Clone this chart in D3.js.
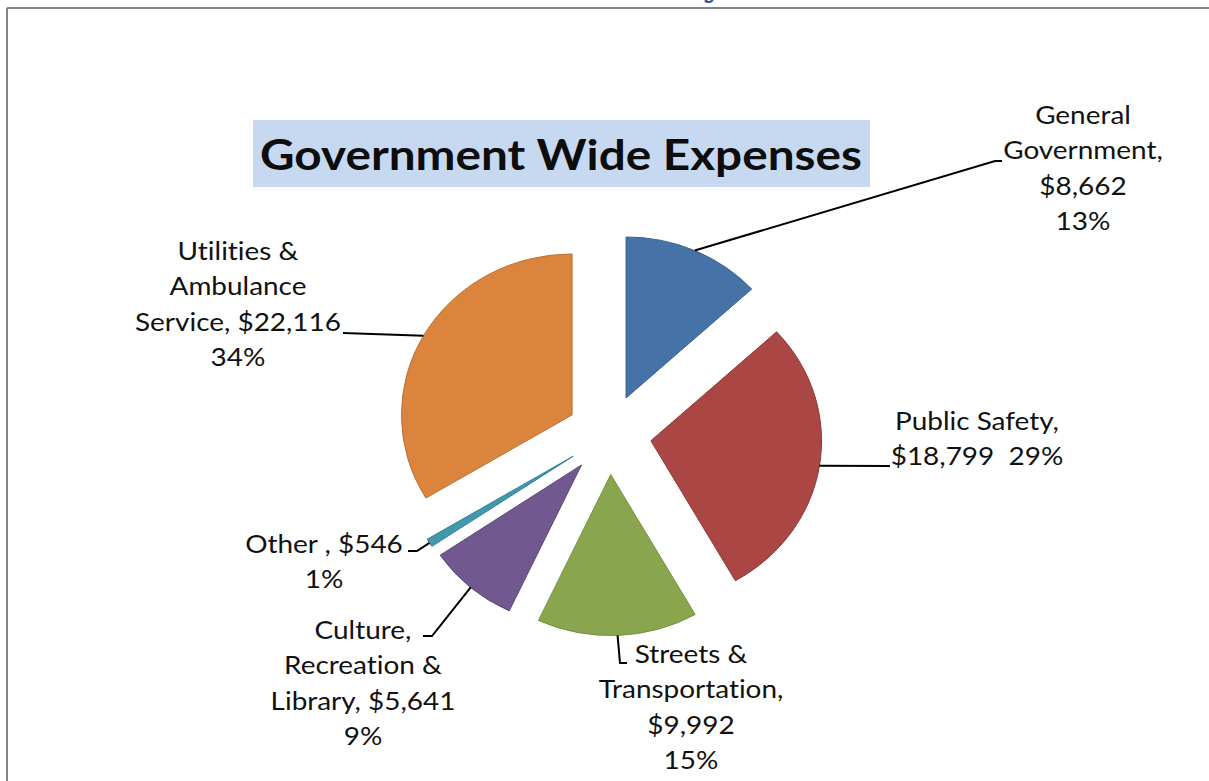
<!DOCTYPE html>
<html>
<head>
<meta charset="utf-8">
<script src="https://cdn.jsdelivr.net/npm/d3@7/dist/d3.min.js"></script>
<style>
  html, body { margin: 0; padding: 0; background: #ffffff; }
  svg { display: block; }
  .lbl { font-family: Lato, "Open Sans", sans-serif; font-size: 24.5px; fill: #111; white-space: pre;
         font-variant-ligatures: none; font-feature-settings: "liga" 0; }
</style>
</head>
<body>
<svg id="chart" width="1209" height="781"></svg>
<script>
// Government-wide expenses by function (thousands of dollars)
const categories = [
  "General Government",
  "Public Safety",
  "Streets & Transportation",
  "Culture, Recreation & Library",
  "Other",
  "Utilities & Ambulance Service"
];
const values = [8662, 18799, 9992, 5641, 546, 22116];
const colors = ["#4572A7", "#AA4643", "#89A54E", "#71588F", "#4198AF", "#DB843D"];
const strokes = ["#3a6291", "#8f3a38", "#74903f", "#5e4977", "#347f93", "#bd6f33"];

// Label text, "|" = line break, {v} = dollar value, {p} = share
const labelTemplates = [
  "General|Government,|{v}|{p}",
  "Public Safety,|{v}  {p}",
  "Streets &|Transportation,|{v}|{p}",
  "Culture,|Recreation &|Library, {v}|{p}",
  "Other , {v}|{p}",
  "Utilities &|Ambulance|Service, {v}|{p}"
];
// Label centre (x, y of first line) and leader elbow points
const labelPos = [[1083, 124], [977, 430], [691, 663], [363, 639], [324, 553], [238, 260]];
const leaderEnds = [
  [[995, 161], [1002, 161]],
  [[890, 466]],
  [[620, 663], [627, 663]],
  [[432, 636], [423, 636]],
  [[417, 551], [408, 551]],
  [[343, 333]]
];

const svg = d3.select("#chart");
const W = 1209, H = 781;

// page frame
svg.append("line").attr("x1", 7).attr("y1", 8).attr("x2", W).attr("y2", 8)
  .attr("stroke", "#858585").attr("stroke-width", 2);
svg.append("line").attr("x1", 7).attr("y1", 8).attr("x2", 7).attr("y2", H)
  .attr("stroke", "#858585").attr("stroke-width", 2);

// descender of the page heading above the frame
svg.append("text").attr("x", 703).attr("y", -4)
  .style("font-family", "'DejaVu Serif', serif").style("font-weight", "bold")
  .style("font-size", "34px").style("fill", "#2a5599").text("y");

// title
svg.append("rect").attr("x", 253).attr("y", 120).attr("width", 617).attr("height", 67)
  .attr("fill", "#c6d9f1");
svg.append("text").attr("x", 260).attr("y", 170)
  .attr("textLength", 602).attr("lengthAdjust", "spacingAndGlyphs")
  .style("font-family", "Lato, sans-serif").style("font-weight", "bold")
  .style("font-size", "42px").style("fill", "#0d0d0d")
  .text("Government Wide Expenses");

// pie geometry
const cx = 609, cy = 434.6, r = 161, sx = 1.06, explode = 40;
const total = d3.sum(values);
const fmtV = d3.format("$,");
const fmtP = d3.format(".0%");

const pie = d3.pie().sort(null).startAngle(0).endAngle(2 * Math.PI);
const arcs = pie(values);
const arc = d3.arc().innerRadius(0).outerRadius(r);

const g = svg.append("g").attr("transform", `translate(${cx},${cy}) scale(${sx},1)`);

function offsetOf(a) {
  const m = (a.startAngle + a.endAngle) / 2;
  return [explode * Math.sin(m), -explode * Math.cos(m)];
}

g.selectAll("path.slice").data(arcs).join("path")
  .attr("class", "slice")
  .attr("transform", d => { const o = offsetOf(d); return `translate(${o[0]},${o[1]})`; })
  .attr("d", arc)
  .attr("fill", (d, i) => colors[i])
  .attr("stroke", (d, i) => strokes[i])
  .attr("stroke-width", 1)
  .attr("vector-effect", "non-scaling-stroke");

// leader lines from slice edge (mid-angle) to label
const leaderG = svg.append("g");
arcs.forEach((a, i) => {
  const m = (a.startAngle + a.endAngle) / 2;
  const rr = explode + r;
  const start = [cx + sx * rr * Math.sin(m), cy - rr * Math.cos(m)];
  const pts = [start].concat(leaderEnds[i]);
  leaderG.append("path")
    .attr("d", d3.line()(pts))
    .attr("fill", "none").attr("stroke", "#000").attr("stroke-width", 2);
});

// labels (slightly widened glyphs)
const lineH = 35.5, textSx = 1.14;
arcs.forEach((a, i) => {
  const txt = labelTemplates[i]
    .replace("{v}", fmtV(values[i]))
    .replace("{p}", fmtP(values[i] / total));
  const t = svg.append("text").attr("class", "lbl").attr("text-anchor", "middle")
    .attr("transform", `translate(${labelPos[i][0]},${labelPos[i][1]}) scale(${textSx},1)`);
  txt.split("|").forEach((ln, k) => {
    t.append("tspan").attr("x", 0).attr("y", k * lineH).text(ln);
  });
});
</script>
</body>
</html>
